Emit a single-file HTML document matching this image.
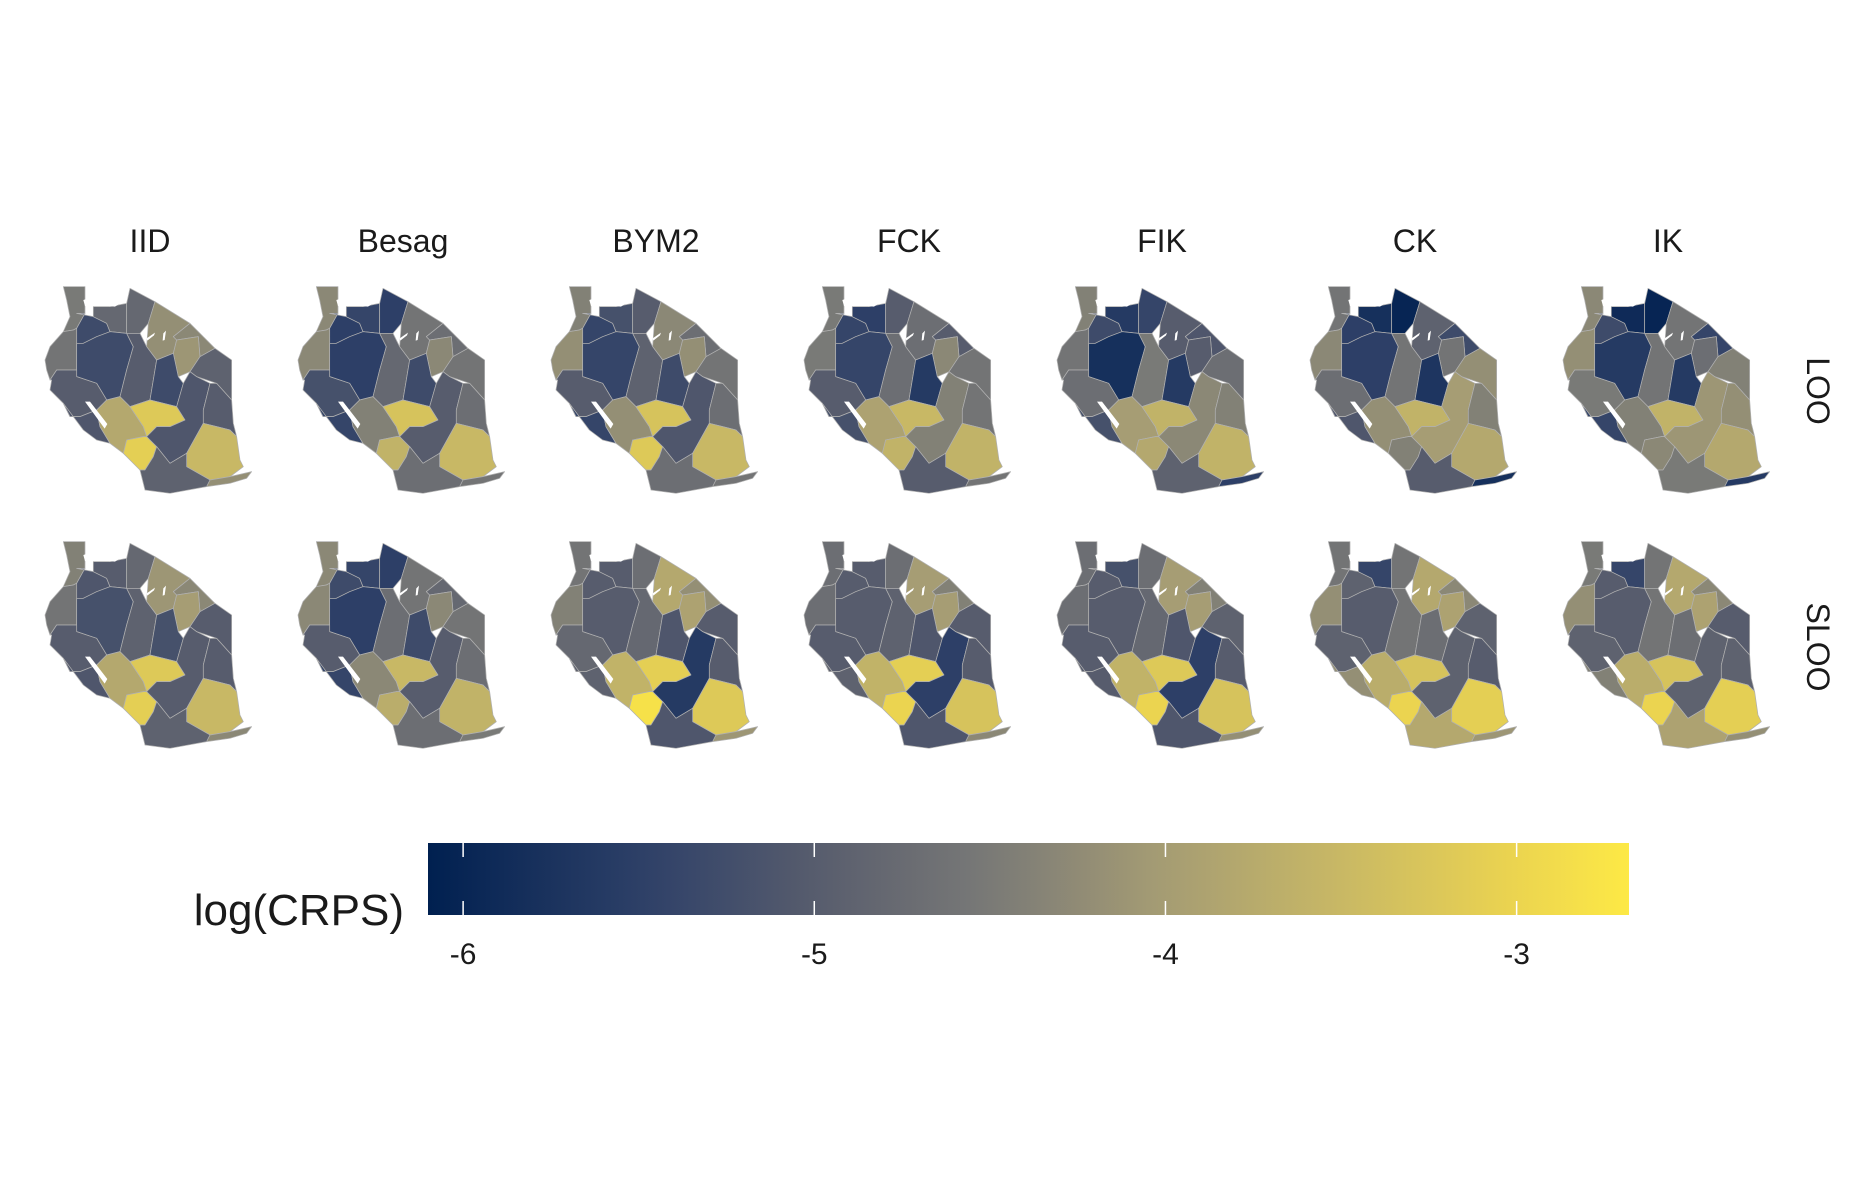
<!DOCTYPE html>
<html><head><meta charset="utf-8"><style>
html,body{margin:0;padding:0;background:#fff}
svg{display:block}
text{font-family:"Liberation Sans",sans-serif}
</style></head><body>
<svg id="chart" width="1875" height="1200" viewBox="0 0 1875 1200" xmlns="http://www.w3.org/2000/svg">
<defs>
<linearGradient id="cividis" x1="0" x2="1" y1="0" y2="0"></linearGradient>
</defs>
<g id="maps"></g>
<g id="legend"></g>
</svg>
<script>
const models = ["IID","Besag","BYM2","FCK","FIK","CK","IK"];
const schemes = ["LOO","SLOO"];
const regionNames = ["Kagera","Geita","Mwanza","Mara","Arusha","Kilimanjaro","Manyara","Tanga","Kigoma","Tabora","Singida","Dodoma","Katavi","Rukwa","Mbeya","Iringa","Njombe","Morogoro","Pwani","Lindi","Ruvuma","Mtwara"];
// log(CRPS) per region, LOO row
const looIID   = [-4.5,-5.3,-4.8,-4.8,-4.2,-4.3,-4.1,-4.9,-4.6,-5.3,-5.0,-5.3,-5.0,-5.1,-3.8,-3.2,-3.1,-5.1,-5.0,-3.5,-4.9,-4.2];
const looBesag = [-4.3,-5.5,-5.4,-5.5,-4.6,-4.7,-4.3,-4.6,-4.3,-5.5,-4.8,-5.3,-5.2,-5.4,-4.4,-3.3,-3.6,-5.0,-4.7,-3.5,-4.7,-4.6];
const looBYM2  = [-4.4,-5.4,-5.2,-5.0,-4.3,-4.7,-4.2,-4.6,-4.2,-5.4,-4.9,-5.3,-5.0,-5.4,-4.2,-3.3,-3.2,-5.1,-4.7,-3.5,-4.7,-4.6];
const looFCK   = [-4.5,-5.4,-5.5,-5.0,-4.7,-5.0,-4.3,-4.6,-4.5,-5.4,-4.7,-5.6,-5.0,-5.2,-3.9,-3.5,-3.6,-4.4,-4.6,-3.6,-5.0,-4.6];
const looFIK   = [-4.4,-5.3,-5.6,-5.4,-5.0,-5.1,-5.0,-4.7,-4.6,-5.8,-4.5,-5.6,-4.7,-5.2,-4.0,-3.6,-3.8,-4.3,-4.4,-3.6,-4.9,-5.5];
const looCK    = [-4.6,-5.5,-5.8,-6.0,-4.9,-5.3,-4.6,-4.2,-4.3,-5.5,-4.6,-5.7,-4.7,-5.1,-4.2,-3.6,-4.4,-4.0,-4.4,-3.8,-5.0,-5.8];
const looIK    = [-4.3,-5.3,-5.9,-6.0,-4.6,-5.4,-4.7,-4.4,-4.2,-5.6,-4.6,-5.6,-4.5,-5.4,-4.4,-3.6,-4.3,-4.1,-4.2,-3.8,-4.5,-5.6];
// SLOO row
const slooIID   = [-4.4,-5.1,-5.0,-4.8,-4.1,-4.3,-4.0,-5.0,-4.6,-5.2,-4.9,-5.2,-5.0,-5.1,-3.8,-3.2,-3.1,-5.0,-5.0,-3.5,-4.9,-4.3];
const slooBesag = [-4.3,-5.3,-5.4,-5.5,-4.6,-4.8,-4.3,-4.6,-4.3,-5.5,-4.7,-5.3,-5.0,-5.4,-4.3,-3.5,-3.7,-5.0,-4.7,-3.6,-4.7,-4.5];
const slooBYM2  = [-4.6,-5.0,-5.0,-4.7,-3.8,-4.2,-3.9,-5.0,-4.4,-5.0,-4.8,-5.1,-4.8,-4.9,-3.6,-3.1,-2.8,-5.6,-5.0,-3.2,-5.1,-4.1];
const slooFCK   = [-4.7,-5.0,-5.0,-4.7,-4.0,-4.4,-4.0,-5.0,-4.7,-5.0,-4.9,-5.1,-5.0,-4.9,-3.6,-3.1,-3.0,-5.5,-5.0,-3.3,-5.1,-4.3];
const slooFIK   = [-4.7,-5.0,-5.2,-4.7,-4.0,-4.4,-4.0,-4.9,-4.7,-5.0,-4.8,-5.1,-5.0,-5.0,-3.6,-3.2,-3.0,-5.5,-5.0,-3.3,-5.1,-4.2];
const slooCK    = [-4.6,-4.9,-5.4,-4.6,-3.8,-4.3,-3.9,-4.9,-4.2,-5.0,-4.6,-4.7,-4.9,-4.2,-3.7,-3.3,-3.0,-4.9,-5.0,-3.1,-3.8,-4.1];
const slooIK    = [-4.5,-5.0,-5.4,-4.6,-3.8,-4.3,-3.9,-5.0,-4.2,-5.0,-4.6,-4.7,-4.9,-4.4,-3.7,-3.3,-3.0,-4.9,-4.9,-3.1,-3.9,-4.2];
const tickValues = [-6,-5,-4,-3];
const tickLabels = ["-6","-5","-4","-3"];
const scaleMin = -6.1, scaleMax = -2.68;

const rows = [[looIID,looBesag,looBYM2,looFCK,looFIK,looCK,looIK],[slooIID,slooBesag,slooBYM2,slooFCK,slooFIK,slooCK,slooIK]];

const shapes = [
"100,50 165,50 165,130 140,175 130,180 100,185 120,140 110,90",
"140,130 190,140 230,160 240,185 200,200 160,220 140,220 140,175 165,130",
"190,110 240,110 290,100 290,190 240,185 230,160 190,140",
"300,55 375,95 355,160 330,190 290,190 290,100",
"375,95 480,160 430,200 440,210 430,250 380,270 350,230 355,160",
"480,160 555,235 510,260 505,200 440,210 430,200",
"440,210 505,200 510,260 480,305 445,320 430,250",
"555,235 605,270 605,390 560,340 500,320 480,305 510,260",
"100,185 130,180 140,175 140,220 140,300 80,300 60,330 50,300 45,270 60,230",
"140,220 160,220 200,200 240,185 290,190 310,230 290,300 270,380 230,390 200,340 140,320 140,300",
"290,190 330,190 350,230 380,270 370,330 360,390 300,410 270,380 290,300 310,230",
"380,270 430,250 445,320 460,340 440,410 360,390 370,330",
"80,300 140,300 140,320 200,340 230,390 200,420 150,440 120,440 100,400 60,360 65,330 60,330",
"100,400 120,440 150,440 200,420 210,470 240,520 200,510 160,480",
"230,390 270,380 300,410 320,440 340,470 350,500 340,500 290,510 280,550 240,520 210,470 200,420",
"300,410 360,390 440,410 465,450 420,470 380,470 350,500 340,470 320,440",
"290,510 340,500 350,500 380,530 370,560 345,600 330,600 280,550",
"440,410 460,340 480,305 500,320 540,340 520,420 520,460 470,550 420,580 380,530 350,500 380,470 420,470 465,450",
"540,340 560,340 605,390 610,460 620,500 600,480 560,470 520,460 520,420",
"520,460 560,470 600,480 620,500 630,570 640,590 600,620 540,630 470,590 470,550",
"330,600 345,600 370,560 380,530 420,580 470,550 470,590 540,630 530,650 420,670 345,660",
"540,630 600,620 665,605 650,625 600,640 530,650"
];
const lakes = [
"165,395 180,395 232,462 224,476",
"160,90 175,85 190,100 178,112 165,108",
"230,95 255,90 270,100 255,110 235,108",
"350,205 375,188 372,196 352,212",
"400,190 408,182 404,210 398,212"
];

const stops = [[0,[0,32,80]],[0.18,[46,64,104]],[0.32,[87,92,109]],[0.47,[122,122,119]],[0.61,[165,156,116]],[0.76,[200,184,101]],[0.91,[236,213,79]],[1,[253,233,69]]];
function colorScale(v){
  let t=(v-scaleMin)/(scaleMax-scaleMin); t=Math.max(0,Math.min(1,t));
  for(let i=1;i<stops.length;i++){
    if(t<=stops[i][0]){
      const a=stops[i-1],b=stops[i],f=(t-a[0])/(b[0]-a[0]);
      const c=a[1].map((x,j)=>Math.round(x+(b[1][j]-x)*f));
      return `rgb(${c[0]},${c[1]},${c[2]})`;
    }
  }
  return "rgb(253,233,69)";
}
function xLegend(v){ return 428 + (v-scaleMin)/(scaleMax-scaleMin)*1201; }

const NS="http://www.w3.org/2000/svg";
function mk(tag,attrs,parent){const e=document.createElementNS(NS,tag);for(const k in attrs)e.setAttribute(k,attrs[k]);parent.appendChild(e);return e;}
const maps=document.getElementById('maps');

models.forEach((m,ci)=>{
  const t=mk('text',{x:150+253*ci,y:252,'text-anchor':'middle','font-size':32,fill:'#1a1a1a'},maps);
  t.textContent=m;
  
  
});
schemes.forEach((s,ri)=>{
  const cy=ri===0?391:647;
  const t=mk('text',{x:0,y:0,'text-anchor':'middle','font-size':32,fill:'#1a1a1a',transform:`translate(1807,${cy}) rotate(90)`},maps);
  t.textContent=s;
  
  
});

rows.forEach((row,ri)=>{
  row.forEach((vals,ci)=>{
    const g=mk('g',{transform:`translate(${30+253*ci},${270+255*ri}) scale(0.3333)`},maps);
    
    
    vals.forEach((v,k)=>{
      const p=mk('polygon',{points:shapes[k],fill:colorScale(v),stroke:'#b0b0b0','stroke-width':2.2,'stroke-linejoin':'round'},g);
      
      
    });
    lakes.forEach(l=>{
      const lk=mk('polygon',{points:l,fill:'#fff'},g);
      
      
    });
  });
});

const grad=document.getElementById('cividis');
for(let i=0;i<=20;i++){
  const v=scaleMin+(scaleMax-scaleMin)*i/20;
  mk('stop',{offset:(i*5)+'%','stop-color':colorScale(v)},grad);
}
const lg=document.getElementById('legend');
const bar=mk('rect',{x:428,y:843,width:1201,height:72,fill:'url(#cividis)'},lg);


tickValues.forEach((v,i)=>{
  const x=xLegend(v);
  const t1=mk('line',{x1:x,x2:x,y1:843,y2:857,stroke:'#fff','stroke-width':1.5},lg);
  
  
  const t2=mk('line',{x1:x,x2:x,y1:901,y2:915,stroke:'#fff','stroke-width':1.5},lg);
  
  
  const lb=mk('text',{x:x,y:964,'text-anchor':'middle','font-size':30,fill:'#1a1a1a'},lg);
  lb.textContent=tickLabels[i];
  
  
});
const title=mk('text',{x:404,y:925,'text-anchor':'end','font-size':44,fill:'#1a1a1a'},lg);
title.textContent='log(CRPS)';


</script>
</body></html>
